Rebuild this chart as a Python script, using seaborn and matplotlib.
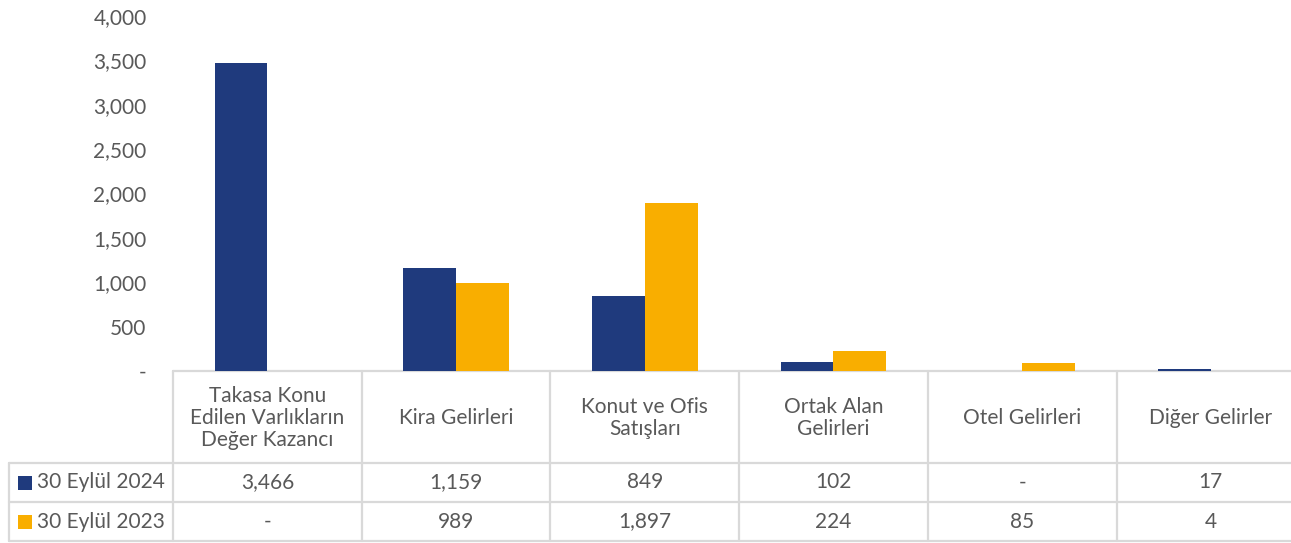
import numpy as np
import pandas as pd
import matplotlib
matplotlib.use("Agg")
import matplotlib.pyplot as plt
import matplotlib.ticker as mticker
from matplotlib.patches import Rectangle
import seaborn as sns

# --- data ---
categories = ["Takasa Konu\nEdilen Varlıkların\nDeğer Kazancı", "Kira Gelirleri",
              "Konut ve Ofis\nSatışları", "Ortak Alan\nGelirleri", "Otel Gelirleri",
              "Diğer Gelirler"]
series_names = ["30 Eylül 2024", "30 Eylül 2023"]
values_2024 = [3466, 1159, 849, 102, 0, 17]
values_2023 = [0, 989, 1897, 224, 85, 4]
colors = ["#1F3A7D", "#F9AE00"]

df = pd.DataFrame({
    "cat": categories * 2,
    "series": [series_names[0]] * 6 + [series_names[1]] * 6,
    "value": values_2024 + values_2023,
})

sns.set_theme(style="white")
plt.rcParams["font.family"] = ["Lato", "DejaVu Sans"]

W, H = 1291, 543
fig = plt.figure(figsize=(W / 100, H / 100), dpi=100)

# layout in pixels
x0, col_w = 173, 188.7
y_zero, y_top = 371, 16
fs = 15
ax = fig.add_axes([x0 / W, (H - y_zero) / H, 6 * col_w / W, (y_zero - y_top) / H])
sns.barplot(data=df, x="cat", y="value", hue="series", palette=colors,
            width=0.56, saturation=1, linewidth=0, ax=ax, legend=False)
ax.set_xlim(-0.5, 5.5)
ax.set_ylim(0, 4000)
ax.set_yticks(np.arange(0, 4001, 500))
ax.yaxis.set_major_formatter(mticker.FuncFormatter(lambda v, p: "-" if v == 0 else f"{int(v):,}"))
ax.tick_params(axis="y", length=0, pad=19, labelsize=fs, labelcolor="#595959")
ax.set_xticks([])
ax.set_xlabel("")
ax.set_ylabel("")
for s in ax.spines.values():
    s.set_visible(False)
ax.patch.set_alpha(0)

# --- data table ---
tab = fig.add_axes([0, 0, 1, 1], zorder=-1)
tab.set_xlim(0, W)
tab.set_ylim(H, 0)
tab.axis("off")
line_kw = dict(color="#D9D9D9", lw=1.6)
rows = [371, 463, 502, 541]
x_left, x_right = 9, x0 + 6 * col_w
tab.plot([x0, x_right], [rows[0]] * 2, **line_kw)
for y in rows[1:]:
    tab.plot([x_left, x_right], [y, y], **line_kw)
tab.plot([x_left, x_left], [rows[1], rows[3]], **line_kw)
for i in range(7):
    xb = x0 + i * col_w
    tab.plot([xb, xb], [rows[0], rows[3]], **line_kw)

txt_kw = dict(fontsize=fs, color="#595959", ha="center", va="center")
for i, c in enumerate(categories):
    xc = x0 + (i + 0.5) * col_w
    tab.text(xc, (rows[0] + rows[1]) / 2 + 1, c, linespacing=1.15, **txt_kw)
    for r, vals in enumerate([values_2024, values_2023]):
        v = vals[i]
        lab = "-" if v == 0 else f"{v:,}"
        tab.text(xc, (rows[r + 1] + rows[r + 2]) / 2, lab, **txt_kw)

for r, name in enumerate(series_names):
    yc = (rows[r + 1] + rows[r + 2]) / 2
    tab.add_patch(Rectangle((18, yc - 7), 14, 14, color=colors[r], lw=0))
    tab.text(37, yc, name, fontsize=fs, color="#595959", ha="left", va="center")

fig.savefig("out.png", dpi=100)
